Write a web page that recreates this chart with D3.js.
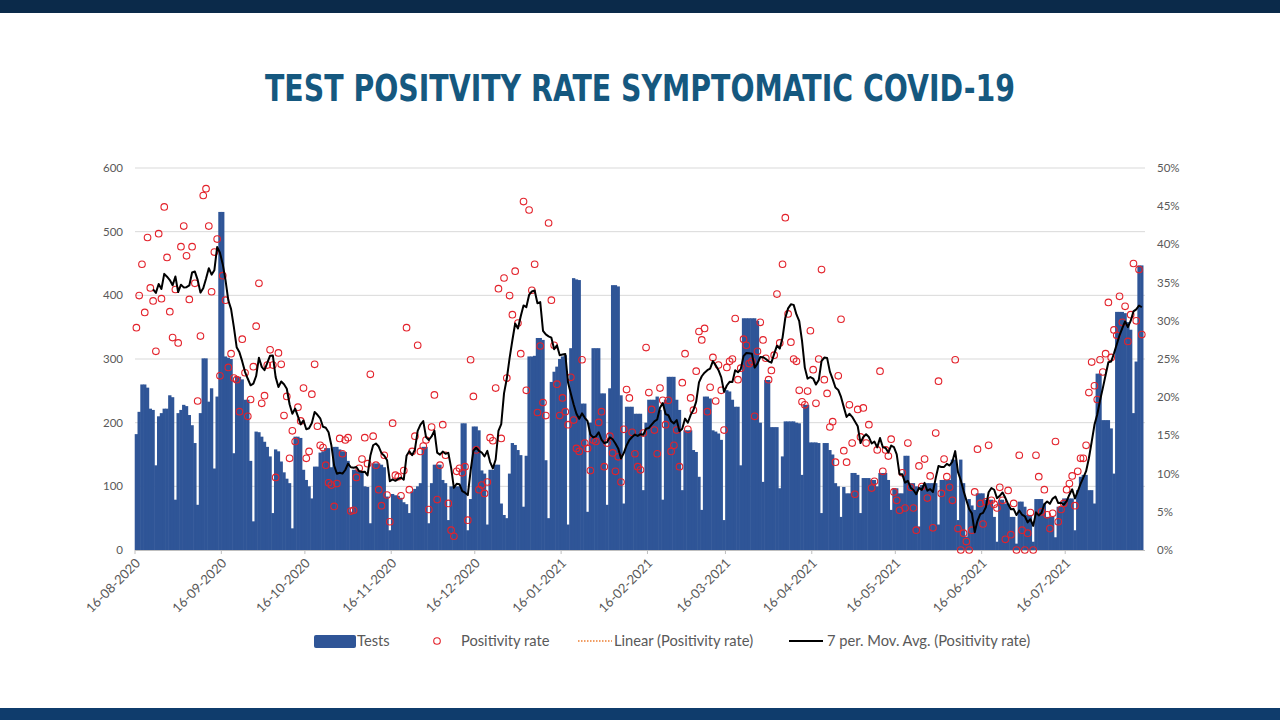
<!DOCTYPE html>
<html><head><meta charset="utf-8">
<script src="https://cdn.jsdelivr.net/npm/d3@7"></script>
<style>body{margin:0;background:#fff;} svg{display:block;}</style>
</head><body>
<svg id="c" width="1280" height="720"></svg>
<script>
// ---------- DATA ----------
const startDate = "16-08-2020";          // first day of the daily series
const monthTicks = ["16-08-2020","16-09-2020","16-10-2020","16-11-2020","16-12-2020","16-01-2021",
  "16-02-2021","16-03-2021","16-04-2021","16-05-2021","16-06-2021","16-07-2021"];
const testTicks = [0,100,200,300,400,500,600];
const rateTicks = [0,5,10,15,20,25,30,35,40,45,50];
const legendLabels = ["Tests","Positivity rate","Linear (Positivity rate)","7 per. Mov. Avg. (Positivity rate)"];

// daily number of tests (one row per week)
const tests = [
182,217,260,260,255,222,220,
133,210,215,222,222,243,240,
79,215,220,228,226,212,196,
168,71,215,301,301,233,254,
128,241,531,531,304,302,300,
152,272,272,268,236,236,140,
45,186,185,178,170,162,147,
58,158,155,139,122,112,105,
34,178,178,176,126,110,100,
81,131,131,153,155,160,160,
130,162,162,158,155,154,140,
60,126,126,125,122,100,99,
42,136,136,136,134,130,84,
31,88,86,85,82,75,72,
58,92,96,100,105,162,162,
42,105,134,134,134,110,105,
47,100,100,100,100,199,199,
31,80,194,194,188,125,120,
40,126,126,134,134,73,55,
50,120,168,165,157,149,68,
148,304,304,305,333,333,330,
141,50,264,280,288,300,304,
306,40,317,427,425,424,230,
230,60,200,317,317,317,246,
246,71,254,416,416,414,243,
73,225,225,225,214,214,214,
94,200,236,236,236,241,220,
79,236,272,272,272,236,220,
94,188,188,188,157,154,115,
63,241,241,238,188,186,183,
173,47,251,249,236,225,225,
133,364,364,364,364,364,360,
200,107,267,267,193,193,193,
97,147,202,202,202,202,200,
199,118,228,228,169,169,169,
168,58,168,168,157,150,105,
100,52,99,89,89,121,121,
118,58,113,113,113,110,110,
100,121,121,121,110,63,97,
97,89,89,148,148,105,105,
100,37,102,102,105,105,105,
105,40,110,110,110,110,142,
142,47,142,105,21,80,70,
63,89,89,89,79,79,79,
52,13,79,79,73,73,52,
52,10,76,76,68,55,55,
13,80,80,80,73,52,52,
52,20,68,68,81,81,81,
81,31,94,115,118,118,94,
94,73,277,277,204,204,204,
191,120,374,374,374,372,358,
346,215,296,447,447
];

// daily positivity rate in % (one row per week)
const positivity = [
29.1,33.3,37.4,31.1,40.9,34.3,32.6,
26.0,41.4,32.9,44.9,38.3,31.2,27.8,
34.1,27.1,39.7,42.4,38.5,32.8,39.7,
34.9,19.5,28.0,46.4,47.3,42.4,33.8,
39.0,40.7,22.8,35.9,32.7,23.9,25.7,
22.5,22.3,18.1,27.6,23.2,17.5,19.7,
24.0,29.3,34.9,19.2,20.2,24.2,26.2,
24.2,9.5,25.8,24.3,17.6,20.1,12.0,
15.6,14.2,18.7,16.9,21.2,12.0,12.9,
20.4,24.3,16.2,13.7,13.4,11.1,8.8,
8.5,5.7,8.7,14.6,12.6,14.4,14.7,
5.1,5.2,9.5,10.7,11.9,14.7,11.3,
23.0,14.9,11.1,7.9,5.8,12.4,7.2,
3.7,16.6,9.8,9.6,7.1,10.4,29.1,
7.9,12.9,14.9,26.8,12.9,13.6,14.4,
5.3,16.1,20.3,6.6,11.1,16.4,12.4,
6.1,2.6,1.8,10.3,10.7,10.1,10.9,
3.9,24.9,20.1,13.1,7.9,8.5,7.4,
8.9,14.7,14.3,21.2,34.2,14.6,35.6,
22.5,33.3,30.8,36.5,29.7,25.7,45.6,
20.9,44.5,34.0,37.4,18.0,26.7,19.3,
17.6,42.8,32.7,26.8,21.7,17.6,19.9,
18.1,16.4,22.6,17.0,13.3,12.9,24.9,
14.0,13.3,10.4,14.4,14.2,16.7,18.1,
10.9,14.0,14.9,12.7,10.3,12.2,8.9,
15.8,21.0,19.9,15.4,12.6,10.9,10.5,
15.3,26.5,20.6,18.4,15.7,12.6,21.2,
19.6,16.4,19.6,12.9,13.7,15.7,10.9,
21.9,25.7,15.8,19.9,18.3,23.4,28.6,
27.5,29.0,18.1,21.3,25.2,19.5,24.2,
20.9,15.7,23.9,24.7,25.0,30.3,22.3,
23.8,27.6,26.8,24.4,24.7,17.5,26.0,
29.8,27.5,25.1,22.3,23.5,25.5,33.5,
27.1,37.4,43.5,30.9,27.2,25.0,24.7,
20.9,19.4,19.0,20.8,28.7,23.6,19.2,
25.0,36.7,22.3,20.5,16.1,16.8,11.5,
22.8,30.2,13.0,11.5,19.0,14.0,7.3,
18.4,14.8,18.6,14.0,16.4,8.1,9.0,
13.1,23.4,10.3,13.1,12.3,14.5,7.6,
6.5,5.2,10.1,5.5,14.0,8.2,5.5,
2.6,11.0,8.3,11.9,6.8,9.7,2.9,
15.3,22.1,7.4,11.9,9.6,8.2,6.5,
24.9,2.8,0,2.2,1.1,0,2.6,
7.6,13.2,6.1,3.4,6.3,13.7,6.5,
6.0,5.5,8.2,6.5,1.4,7.8,2.0,
6.1,0,12.4,2.6,0,2.2,4.9,
0,12.4,9.6,5.0,7.9,4.6,2.8,
4.8,14.2,3.7,5.3,6.1,7.9,8.7,
9.7,5.8,10.3,12.0,12.0,13.7,20.6,
24.6,21.5,19.7,24.9,23.3,25.7,32.4,
25.2,28.8,28.1,33.2,29.8,31.9,27.3,
30.8,37.5,30.0,36.7,28.2
];

// ---------- CHART ----------
const svg = d3.select("#c");
const W = 1280, H = 720;
const parse = d3.utcParse("%d-%m-%Y");
const fmt = d3.utcFormat("%d-%m-%Y");
const t0 = parse(startDate);
const days = tests.map((_, i) => d3.utcDay.offset(t0, i));
const tEnd = d3.utcDay.offset(t0, tests.length);

const plot = {left: 135, right: 1143.2, top: 168, bottom: 550};
const x = d3.scaleUtc().domain([t0, tEnd]).range([plot.left, plot.right]);
const yL = d3.scaleLinear().domain([0, 600]).range([plot.bottom, plot.top]);
const yR = d3.scaleLinear().domain([0, 50]).range([plot.bottom, plot.top]);
const step = x(d3.utcDay.offset(t0, 1)) - x(t0);

const grey = "#595959";
const font = "Lato, 'Open Sans', 'Liberation Sans', sans-serif";

// bands
svg.append("rect").attr("x", 0).attr("y", 0).attr("width", W).attr("height", 13).attr("fill", "#0b2a4a");
svg.append("rect").attr("x", 0).attr("y", 708).attr("width", W).attr("height", 12).attr("fill", "#0f3c6c");

// title
svg.append("text").attr("x", 640).attr("y", 101).attr("text-anchor", "middle")
  .attr("font-family", "'Liberation Sans Narrow','DejaVu Sans Condensed','Liberation Sans',sans-serif")
  .attr("font-weight", "bold").attr("font-size", 37).attr("fill", "#15587f")
  .attr("textLength", 750).attr("lengthAdjust", "spacingAndGlyphs")
  .text("TEST POSITVITY RATE SYMPTOMATIC COVID-19");

// gridlines
svg.append("g").selectAll("line").data(testTicks.filter(d => d > 0)).join("line")
  .attr("x1", plot.left).attr("x2", 1145).attr("y1", d => yL(d)).attr("y2", d => yL(d))
  .attr("stroke", "#d9d9d9").attr("stroke-width", 1);

// left axis labels
svg.append("g").selectAll("text").data(testTicks).join("text")
  .attr("x", 123).attr("y", d => yL(d) + 4).attr("text-anchor", "end")
  .attr("font-family", font).attr("font-size", 11.5).attr("fill", grey).text(d => d);
// right axis labels
svg.append("g").selectAll("text").data(rateTicks).join("text")
  .attr("x", 1157).attr("y", d => yR(d) + 4).attr("text-anchor", "start")
  .attr("font-family", font).attr("font-size", 11.5).attr("fill", grey).text(d => d + "%");

// bars
const barColor = "#2f5597";
svg.append("g").selectAll("rect").data(tests).join("rect")
  .attr("x", (d, i) => x(days[i]) - step * 0.1)
  .attr("width", step * 1.2)
  .attr("y", d => yL(d))
  .attr("height", d => yL(0) - yL(d))
  .attr("fill", barColor);

// x axis line & ticks
svg.append("line").attr("x1", plot.left).attr("x2", 1145).attr("y1", plot.bottom + 0.5).attr("y2", plot.bottom + 0.5)
  .attr("stroke", "#bfbfbf").attr("stroke-width", 1);
const tickDates = monthTicks.map(parse);
svg.append("g").selectAll("line").data(tickDates).join("line")
  .attr("x1", d => x(d)).attr("x2", d => x(d)).attr("y1", plot.bottom).attr("y2", plot.bottom + 4)
  .attr("stroke", "#bfbfbf");
svg.append("g").selectAll("text").data(tickDates).join("text")
  .attr("transform", d => `translate(${x(d) + 6},${plot.bottom + 14}) rotate(-45)`)
  .attr("text-anchor", "end").attr("font-family", font).attr("font-size", 13).attr("fill", grey)
  .text(d => fmt(d));

// scatter points
svg.append("g").selectAll("circle").data(positivity).join("circle")
  .attr("cx", (d, i) => x(days[i]) + step / 2)
  .attr("cy", d => yR(d))
  .attr("r", 3.3).attr("fill", "none").attr("stroke", "#e3222b").attr("stroke-width", 1.1);

// 7 period moving average trendline of the positivity series
const ma = positivity.map((d, i) => i < 6 ? null : d3.mean(positivity.slice(i - 6, i + 1)));
const line = d3.line().defined(d => d[1] != null).x(d => d[0]).y(d => yR(d[1]));
svg.append("path")
  .datum(ma.map((v, i) => [x(days[i]) + step / 2, v]))
  .attr("d", line).attr("fill", "none").attr("stroke", "#000").attr("stroke-width", 2)
  .attr("stroke-linejoin", "round");

// legend
const lg = svg.append("g").attr("font-family", font).attr("font-size", 14.7).attr("fill", grey);
lg.append("rect").attr("x", 314).attr("y", 635).attr("width", 42).attr("height", 13).attr("rx", 2).attr("fill", barColor);
lg.append("text").attr("x", 357).attr("y", 646).text(legendLabels[0]);
lg.append("circle").attr("cx", 437).attr("cy", 641).attr("r", 3.3).attr("fill", "none").attr("stroke", "#e3222b").attr("stroke-width", 1.1);
lg.append("text").attr("x", 461).attr("y", 646).text(legendLabels[1]);
lg.append("line").attr("x1", 578).attr("x2", 612).attr("y1", 641).attr("y2", 641)
  .attr("stroke", "#ed7d31").attr("stroke-width", 1.5).attr("stroke-dasharray", "1.5,1.5");
lg.append("text").attr("x", 614).attr("y", 646).text(legendLabels[2]);
lg.append("line").attr("x1", 789).attr("x2", 823).attr("y1", 641).attr("y2", 641)
  .attr("stroke", "#000").attr("stroke-width", 2);
lg.append("text").attr("x", 827).attr("y", 646).text(legendLabels[3]);
</script>
</body></html>
